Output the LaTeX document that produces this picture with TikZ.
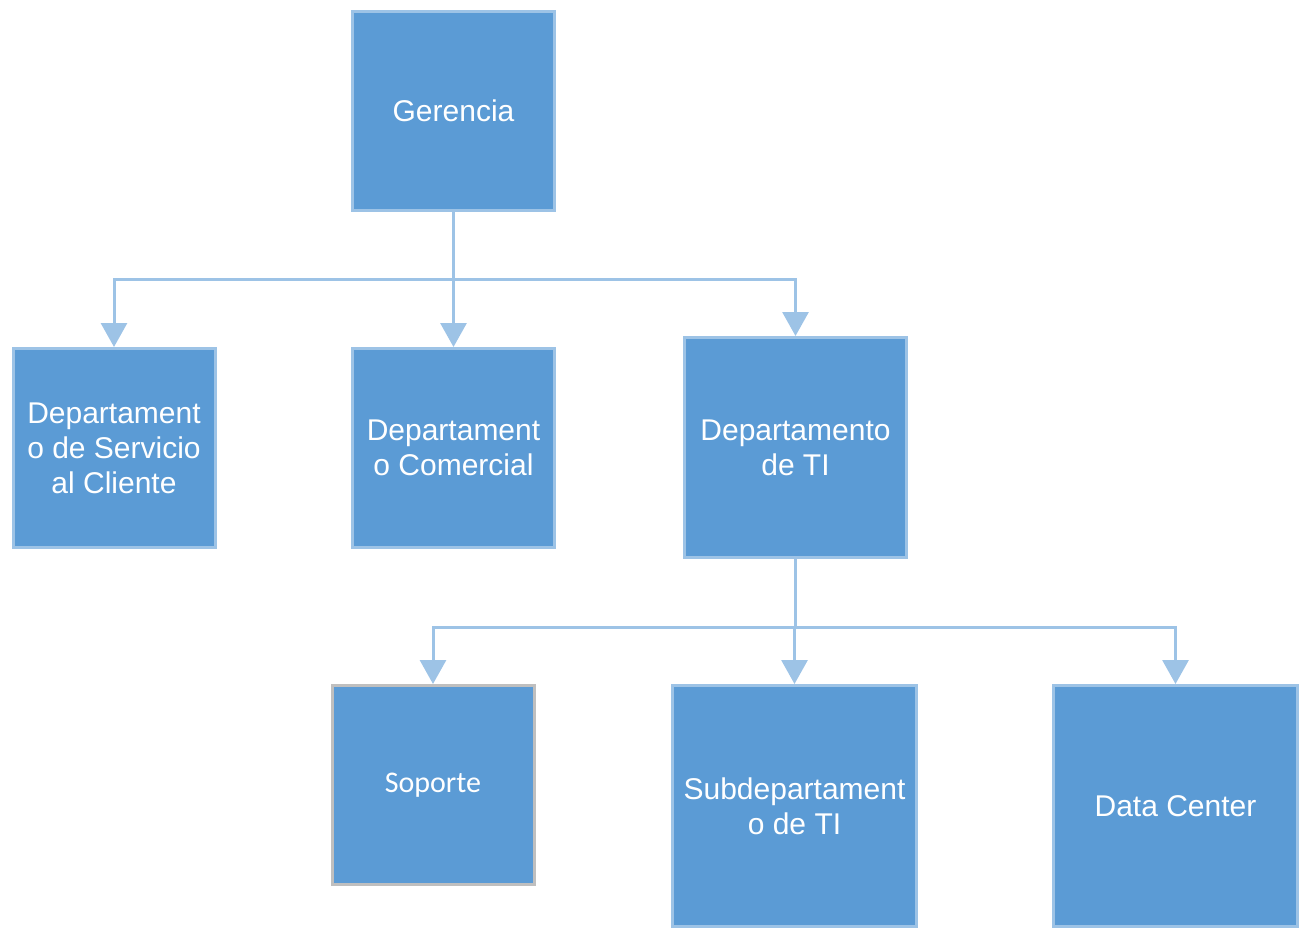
\documentclass[tikz,border=0pt]{standalone}
\usepackage{fontspec}
\setmainfont{Liberation Sans}
\newfontfamily\calibrilike{Carlito}
\usetikzlibrary{arrows.meta}

\definecolor{boxfill}{RGB}{91,155,213}
\definecolor{boxline}{RGB}{157,195,230}
\definecolor{greyline}{RGB}{191,191,191}

\tikzset{
  orgbox/.style={draw=boxline, line width=2.25pt, fill=boxfill, text=white, align=center,
    inner sep=0pt, font=\fontsize{22.5}{26.3}\selectfont},
  smallbox/.style={orgbox, minimum width=151.5pt, minimum height=149.25pt},
  bigbox/.style={orgbox, minimum width=183pt, minimum height=180.75pt},
  link/.style={draw=boxline, line width=2.25pt},
  linkarrow/.style={link, -{Triangle[width=19.5pt,length=18pt]}}
}

\begin{document}
\begin{tikzpicture}[x=0.75pt,y=0.75pt,yscale=-1,xscale=1]
  \useasboundingbox (0,0) rectangle (1306,931);

  % Boxes
  \node [smallbox] (ger) at (453.5,111) {Gerencia};
  \node [smallbox] (serv) at (114,448) {Departament\\o de Servicio\\al Cliente};
  \node [smallbox] (com) at (453.5,448) {Departament\\o Comercial};
  \node [orgbox, minimum width=166.5pt, minimum height=165pt] (ti) at (795.5,447.5) {Departamento\\de TI};
  \node [smallbox, draw=greyline, font=\calibrilike\fontsize{22.5}{26.3}\selectfont] (sop) at (433,785) {Soporte};
  \node [bigbox] (sub) at (794.5,806) {Subdepartament\\o de TI};
  \node [bigbox] (dc) at (1175.5,806) {Data Center};

  % Bus points
  \coordinate (bus1) at (454,279);
  \coordinate (bus2) at (795,627);

  % Connectors under Gerencia
  \draw [linkarrow] (ger.south) -- (com.north);
  \draw [linkarrow] (bus1) -| (serv.north);
  \draw [linkarrow] (bus1) -| (ti.north);

  % Connectors under Departamento de TI
  \draw [link] (ti.south) -- (ti.south |- bus2);
  \draw [linkarrow] (bus2 -| sub.north) -- (sub.north);
  \draw [linkarrow] (bus2) -| (sop.north);
  \draw [linkarrow] (bus2) -| (dc.north);
\end{tikzpicture}
\end{document}
